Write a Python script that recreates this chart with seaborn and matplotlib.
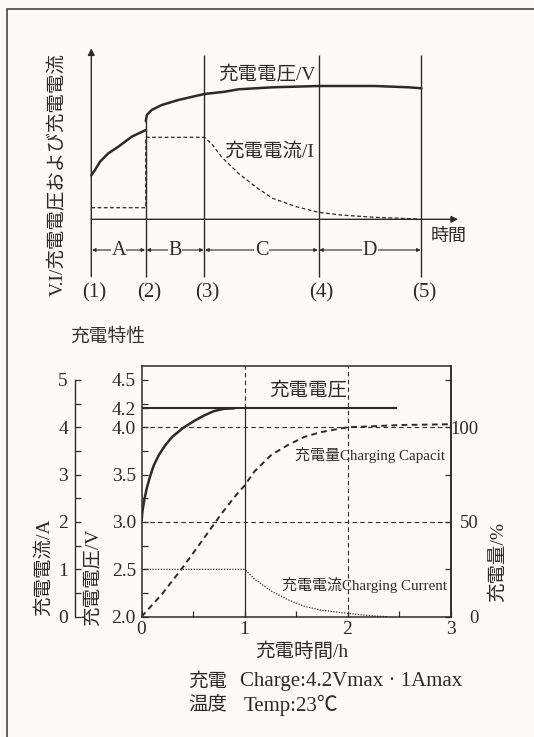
import numpy as np
import pandas as pd
import seaborn as sns
import matplotlib.pyplot as plt
from matplotlib.patches import Rectangle
from matplotlib.ticker import MultipleLocator

sns.set_theme(style='white')
plt.rcParams['font.family'] = ['Liberation Serif', 'Noto Sans CJK JP']
plt.rcParams['axes.unicode_minus'] = False

BG = '#fcfbf7'
INK = '#2b2b2b'
MIX = ['Liberation Serif', 'Noto Sans CJK JP']

# ---- top chart: charging phases (schematic, arbitrary units) ----
phase_x = [0, 5.45, 11.31, 22.72, 33.0]
phase_names = ['A', 'B', 'C', 'D']
phase_marks = ['(1)', '(2)', '(3)', '(4)', '(5)']

volt_a_x = [0, 0.37, 0.87, 1.7, 2.7, 4.04, 5.45]
volt_a_y = [4.4, 4.93, 5.76, 6.6, 7.26, 8.26, 8.93]
volt_b_x = [5.45, 5.55, 6.04, 7.04, 8.7, 11.31, 13.37, 14.71, 18.12, 22.72, 28.34, 31.74, 33.0]
volt_b_y = [9.8, 10.43, 10.93, 11.43, 11.93, 12.53, 12.76, 13.0, 13.2, 13.33, 13.33, 13.2, 13.1]
curr_x = [0, 5.45, 5.45, 11.31, 11.99, 13.01, 14.71, 16.41, 18.12, 20.5, 22.72, 24.93, 28.34, 32.76]
curr_y = [1.16, 1.16, 8.2, 8.2, 7.6, 6.26, 4.6, 3.26, 2.1, 1.26, 0.7, 0.43, 0.2, 0.03]

# ---- bottom chart: 4.2V / 1A charge at 23C ----
t_volt = [0, 0.01, 0.03, 0.05, 0.08, 0.12, 0.17, 0.23, 0.3, 0.4, 0.5, 0.6, 0.7, 0.8, 0.9]
v_volt = [3.0, 3.12, 3.25, 3.35, 3.47, 3.6, 3.71, 3.81, 3.9, 3.99, 4.06, 4.12, 4.17, 4.195, 4.2]
cv_level = 4.2
cv_span = [0, 2.48]

t_cap = [0, 0.2, 0.4, 0.6, 0.78, 0.9, 1.0, 1.1, 1.26, 1.42, 1.58, 1.74, 2.0, 2.23, 2.52, 3.0]
cap_pct = [0, 12, 26, 41, 54.6, 63, 69.2, 76.9, 85.4, 90.6, 94.9, 97.4, 100, 100.5, 101.2, 101.6]

t_curr = [0, 1.0, 1.05, 1.1, 1.26, 1.42, 1.58, 1.74, 2.0, 2.23, 2.39]
i_curr = [1.0, 1.0, 0.9, 0.79, 0.54, 0.36, 0.22, 0.14, 0.07, 0.02, 0.0]

v_ticks = [2.0, 2.5, 3.0, 3.5, 4.0, 4.2, 4.5]
v_labels = ['2.0', '2.5', '3.0', '3.5', '4.0', '4.2', '4.5']
i_ticks = [0, 1, 2, 3, 4, 5]
p_ticks = [0, 25, 50, 75, 100, 125]
p_labels = ['0', '', '50', '', '100', '']
t_ticks = [0, 1, 2, 3]
grid_v = [3.0, 4.0]
grid_t = [2]
cc_end = 1.0


def fx(px):
    return px / 534


def fy(py):
    return 1 - py / 737


fig = plt.figure(figsize=(5.34, 7.37), dpi=100)
fig.patch.set_facecolor(BG)
fig.add_artist(Rectangle((fx(7), -0.1), 1.2, fy(9) + 0.1, transform=fig.transFigure,
                         fill=False, ec='#555555', lw=1.3))

# ================= top chart =================
ax_t = fig.add_axes([fx(30), fy(320), 450 / 534, 300 / 737])
ax_t.set_xlim(-6.13, 38.87)
ax_t.set_ylim(-10.07, 19.93)
ax_t.axis('off')

sns.lineplot(x=volt_a_x, y=volt_a_y, ax=ax_t, color=INK, lw=1.8, estimator=None, sort=False)
sns.lineplot(x=volt_b_x, y=volt_b_y, ax=ax_t, color=INK, lw=1.8, estimator=None, sort=False)
sns.lineplot(x=curr_x, y=curr_y, ax=ax_t, color=INK, lw=0.9, linestyle=(0, (3, 2)),
             estimator=None, sort=False)

y_bottom = -5.74
ax_t.annotate('', xy=(0, 17.1), xytext=(0, y_bottom),
              arrowprops=dict(arrowstyle='-|>', color=INK, lw=1.0, mutation_scale=10,
                              shrinkA=0, shrinkB=0))
ax_t.annotate('', xy=(36.68, 0), xytext=(0, 0),
              arrowprops=dict(arrowstyle='-|>', color=INK, lw=1.0, mutation_scale=10,
                              shrinkA=0, shrinkB=0))
ax_t.vlines(phase_x[1], y_bottom, volt_b_y[0], color=INK, lw=1.0)
ax_t.vlines(phase_x[2:], y_bottom, 16.43, color=INK, lw=1.0)

row_y = -3.07
for i, name in enumerate(phase_names):
    x0, x1 = phase_x[i], phase_x[i + 1]
    ax_t.annotate('', xy=(x1, row_y), xytext=(x0, row_y),
                  arrowprops=dict(arrowstyle='<|-|>', color=INK, lw=0.8, mutation_scale=5,
                                  shrinkA=0.5, shrinkB=0.5))
    ax_t.text((x0 + x1) / 2, row_y, name, ha='center', va='center', fontsize=14.5,
              color=INK, bbox=dict(fc=BG, ec='none', pad=0.5))
for x, mark in zip(phase_x, phase_marks):
    ax_t.text(x + 0.3, -7.4, mark, ha='center', va='center', fontsize=15, color=INK)

ax_t.text(17.6, 14.4, '充電電圧/V', ha='center', va='center', fontsize=14,
          family=MIX, color=INK)
ax_t.text(17.8, 6.76, '充電電流/I', ha='center', va='center', fontsize=14,
          family=MIX, color=INK)
ax_t.text(35.7, -1.74, '時間', ha='center', va='center', fontsize=13,
          family=MIX, color=INK)
ax_t.text(-3.34, 4.43, 'V.I/充電電圧および充電電流', ha='center', va='center',
          rotation=90, fontsize=14, family=MIX, color=INK)

fig.text(fx(108), fy(336), '充電特性', ha='center', va='center', fontsize=13.5,
         family=['Noto Sans CJK JP'], color='#333333')

# ================= bottom chart =================
v_top = 4.647
ax = fig.add_axes([fx(141.5), fy(616.7), 309 / 534, 250.7 / 737])
ax.set_facecolor('none')
ax.set_xlim(0, 3)
ax.set_ylim(2.0, v_top)
for s in ax.spines.values():
    s.set_color(INK)
    s.set_linewidth(1.1)

for v in grid_v:
    ax.axhline(v, color=INK, lw=0.8, linestyle=(0, (4, 3)))
for t in grid_t:
    ax.axvline(t, color=INK, lw=0.8, linestyle=(0, (4, 3)))
ax.vlines(cc_end, 2.0, cv_level, color=INK, lw=0.9)
ax.vlines(cc_end, cv_level, v_top, color=INK, lw=0.8, linestyle=(0, (4, 3)))

sns.lineplot(x=t_volt, y=v_volt, ax=ax, color=INK, lw=1.8, estimator=None, sort=False)
ax.hlines(cv_level, cv_span[0], cv_span[1], color=INK, lw=1.5)

ax.set_xticks(t_ticks)
ax.xaxis.set_minor_locator(MultipleLocator(0.5))
ax.set_yticks(v_ticks)
ax.set_yticklabels(v_labels)
ax.yaxis.set_minor_locator(MultipleLocator(0.25))
ax.tick_params(axis='both', which='both', direction='in', colors=INK, labelsize=14,
               top=False, right=False, left=True, bottom=True, width=0.9)
ax.tick_params(axis='both', which='major', length=4)
ax.tick_params(axis='both', which='minor', length=4)
ax.tick_params(axis='y', pad=4)
ax.tick_params(axis='x', pad=3)
ax.set_xlabel('')
ax.set_ylabel('')

# current axis (left, outside)
ax_i = ax.twinx()
ax_i.set_ylim(0, (v_top - 2.0) / 0.5)
sns.lineplot(x=t_curr, y=i_curr, ax=ax_i, color=INK, lw=0.9, linestyle=(0, (1, 1.2)),
             estimator=None, sort=False)
for s in ['right', 'top', 'bottom']:
    ax_i.spines[s].set_visible(False)
ax_i.spines['left'].set_visible(True)
ax_i.spines['left'].set_position(('outward', 48))
ax_i.spines['left'].set_bounds(0, 5)
ax_i.spines['left'].set_color(INK)
ax_i.spines['left'].set_linewidth(1.0)
ax_i.yaxis.tick_left()
ax_i.set_yticks(i_ticks)
ax_i.yaxis.set_minor_locator(MultipleLocator(0.5))
ax_i.tick_params(axis='y', which='both', direction='in', left=True, right=False,
                 labelleft=True, labelright=False, colors=INK, labelsize=14, length=4,
                 width=0.9, pad=5)
ax_i.set_ylabel('')

# charge capacity axis (right)
ax_p = ax.twinx()
ax_p.set_ylim(0, (v_top - 2.0) * 50)
sns.lineplot(x=t_cap, y=cap_pct, ax=ax_p, color=INK, lw=1.4, linestyle=(0, (3, 2.2)),
             estimator=None, sort=False)
for s in ['left', 'top', 'bottom']:
    ax_p.spines[s].set_visible(False)
ax_p.spines['right'].set_color(INK)
ax_p.spines['right'].set_linewidth(1.1)
ax_p.set_yticks(p_ticks)
ax_p.set_yticklabels(p_labels)
ax_p.tick_params(axis='y', direction='in', right=True, left=False, labelright=True,
                 colors=INK, labelsize=13.5, length=4, width=0.9, pad=20.5)
for lab in ax_p.get_yticklabels():
    lab.set_horizontalalignment('right')
ax_p.set_ylabel('')

# texts
ax.text(1.62, 4.376, '充電電圧', ha='center', va='center', fontsize=14, family=MIX, color=INK)
ax.text(2.946, 3.71, '充電量Charging Capacit', ha='right', va='center', fontsize=10.8,
        family=MIX, color=INK)
ax.text(2.963, 2.335, '充電電流Charging Current', ha='right', va='center', fontsize=10.8,
        family=MIX, color=INK)

fig.text(fx(44), fy(567), '充電電流/A', rotation=90, ha='center', va='center',
         fontsize=14, family=MIX, color=INK)
fig.text(fx(93.3), fy(577), '充電電圧/V', rotation=90, ha='center', va='center',
         fontsize=14, family=MIX, color=INK)
fig.text(fx(498), fy(562.5), '充電量/%', rotation=90, ha='center', va='center',
         fontsize=14, family=MIX, color=INK)
fig.text(fx(302), fy(651.7), '充電時間/h', ha='center', va='center',
         fontsize=14, family=MIX, color=INK)

fig.text(fx(188.4), fy(681.7), '充電', ha='left', va='center', fontsize=14,
         family=MIX, color=INK)
fig.text(fx(240), fy(681.7), 'Charge:4.2Vmax · 1Amax', ha='left', va='center',
         fontsize=15, family=MIX, color=INK)
fig.text(fx(188.4), fy(705), '温度', ha='left', va='center', fontsize=14,
         family=MIX, color=INK)
fig.text(fx(243.5), fy(705), 'Temp:23℃', ha='left', va='center', fontsize=15,
         family=MIX, color=INK)

fig.savefig('out.png', dpi=100, facecolor=BG)
